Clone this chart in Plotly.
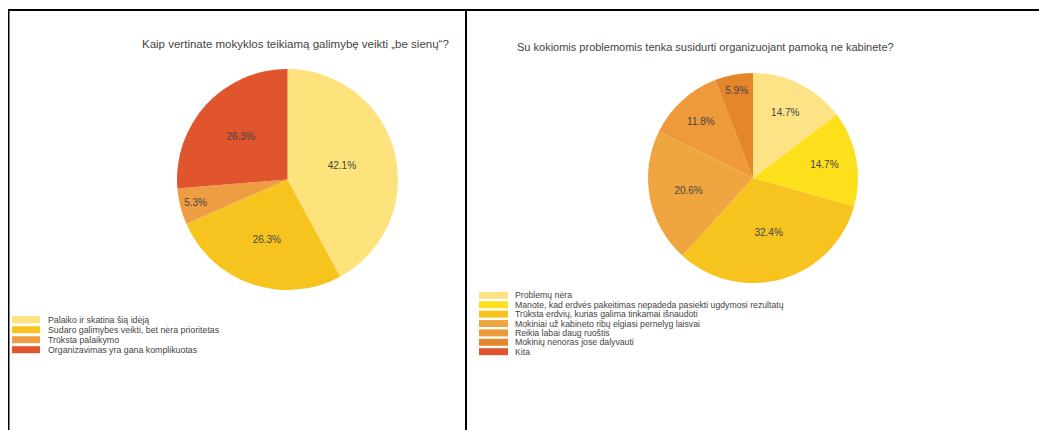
import plotly.graph_objects as go

# page body has an 8px margin; the figure starts at (8, 8) in the window
OFF = 8
W, H = 1047 - OFF, 430 - OFF

# ---- data ----
left_title = "Kaip vertinate mokyklos teikiamą galimybę veikti „be sienų“?"
left_labels = [
    "Palaiko ir skatina šią idėją",
    "Sudaro galimybes veikti, bet nėra prioritetas",
    "Trūksta palaikymo",
    "Organizavimas yra gana komplikuotas",
]
left_values = [42.1, 26.3, 5.3, 26.3]
left_colors = ["#FEE27B", "#F7C41F", "#EE9D43", "#E0542E"]

right_title = "Su kokiomis problemomis tenka susidurti organizuojant pamoką ne kabinete?"
right_labels = [
    "Problemų nėra",
    "Manote, kad erdvės pakeitimas nepadeda pasiekti ugdymosi rezultatų",
    "Trūksta erdvių, kurias galima tinkamai išnaudoti",
    "Mokiniai už kabineto ribų elgiasi pernelyg laisvai",
    "Reikia labai daug ruoštis",
    "Mokinių nenoras jose dalyvauti",
    "Kita",
]
right_values = [14.7, 14.7, 32.4, 20.6, 11.8, 5.9, 0]
right_colors = ["#FDE385", "#FCE01C", "#F7C31F", "#F0A640", "#EE9A3A", "#E5862A", "#E0532E"]

FONT = "Arial, 'Liberation Sans', sans-serif"


def px_x(x):
    # window pixel -> paper fraction
    return (x - OFF) / W


def px_y(y):
    return 1 - (y - OFF) / H


fig = go.Figure()

fig.add_trace(go.Pie(
    labels=left_labels, values=left_values, sort=False, direction="clockwise", rotation=0,
    marker=dict(colors=left_colors, line=dict(width=0)),
    texttemplate="%{value}%", textposition="inside", insidetextorientation="horizontal",
    textfont=dict(family=FONT, size=10, color="#444444"),
    domain=dict(x=[px_x(177), px_x(398)], y=[px_y(290), px_y(69)]),
    showlegend=False, hoverinfo="label+percent",
))

fig.add_trace(go.Pie(
    labels=right_labels, values=right_values, sort=False, direction="clockwise", rotation=0,
    marker=dict(colors=right_colors, line=dict(width=0)),
    texttemplate="%{value}%", textposition="inside", insidetextorientation="horizontal",
    textfont=dict(family=FONT, size=10, color="#444444"),
    domain=dict(x=[px_x(648), px_x(858)], y=[px_y(283), px_y(73)]),
    showlegend=False, hoverinfo="label+percent",
))

shapes = []
annotations = []

# frame lines
shapes.append(dict(type="line", xref="paper", yref="paper", x0=0, x1=1, y0=px_y(10), y1=px_y(10),
                   line=dict(color="black", width=2)))
shapes.append(dict(type="line", xref="paper", yref="paper", x0=px_x(8.75), x1=px_x(8.75), y0=px_y(10), y1=0,
                   line=dict(color="black", width=1.5)))
shapes.append(dict(type="line", xref="paper", yref="paper", x0=px_x(466), x1=px_x(466), y0=px_y(10), y1=0,
                   line=dict(color="black", width=2)))

# titles
annotations.append(dict(text=left_title, x=px_x(295), y=px_y(44), xref="paper", yref="paper",
                        xanchor="center", yanchor="middle", showarrow=False,
                        font=dict(family=FONT, size=11.5, color="#444444")))
annotations.append(dict(text=right_title, x=px_x(705), y=px_y(47), xref="paper", yref="paper",
                        xanchor="center", yanchor="middle", showarrow=False,
                        font=dict(family=FONT, size=11, color="#444444")))


def add_legend(labels, colors, x_sw0, x_sw1, x_text, y0, dy, fsize):
    for i, (lab, col) in enumerate(zip(labels, colors)):
        yc = y0 + i * dy
        shapes.append(dict(type="rect", xref="paper", yref="paper",
                           x0=px_x(x_sw0), x1=px_x(x_sw1), y0=px_y(yc + 3.5), y1=px_y(yc - 3.5),
                           fillcolor=col, line=dict(width=0)))
        annotations.append(dict(text=lab, x=px_x(x_text), y=px_y(yc), xref="paper", yref="paper",
                                xanchor="left", yanchor="middle", showarrow=False, borderpad=0,
                                font=dict(family=FONT, size=fsize, color="#444444")))


add_legend(left_labels, left_colors, 12, 40, 47, 319.7, 10.0, 8.8)
add_legend(right_labels, right_colors, 479, 508, 514, 295.3, 9.4, 8.7)

fig.update_layout(
    width=W, height=H, margin=dict(l=0, r=0, t=0, b=0),
    paper_bgcolor="white", plot_bgcolor="white",
    shapes=shapes, annotations=annotations,
    font=dict(family=FONT),
)

fig.write_html("out.html")
